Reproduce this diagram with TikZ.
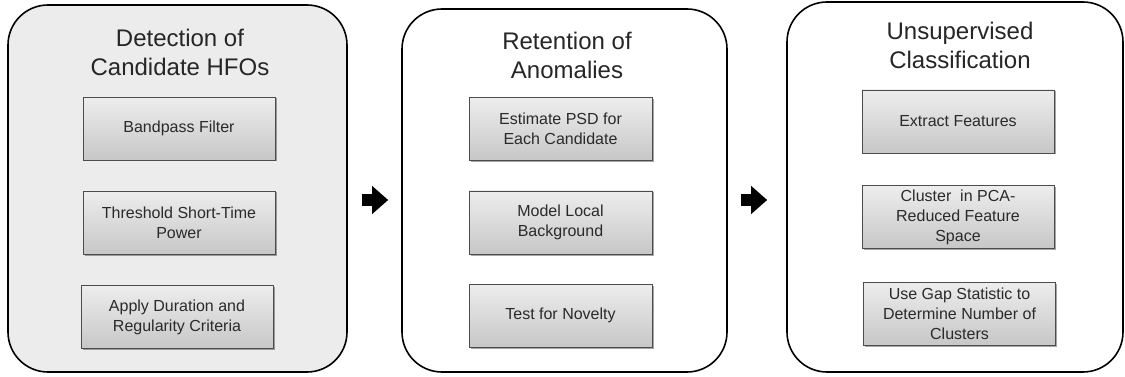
\documentclass[tikz,border=0pt]{standalone}
\usepackage{fontspec}
\setmainfont{Liberation Sans}
\usetikzlibrary{arrows.meta,shadows}
\definecolor{boxtext}{HTML}{2A2A2A}
\tikzset{
  panel/.style={draw=black, line width=1.6pt, rounded corners=40pt, inner sep=0pt},
  ptitle/.style={anchor=north, inner sep=0pt, align=center, font=\fontsize{24}{29}\selectfont, text=black!85},
  stepbox/.style={draw=black!70, line width=0.8pt, top color=gray!14, bottom color=gray!44,
     minimum width=192pt, minimum height=63pt, inner sep=2pt, align=center,
     font=\fontsize{16}{20}\selectfont, text=boxtext,
     drop shadow={shadow xshift=1.5pt, shadow yshift=-1.5pt, opacity=0.35, fill=black}},
  blockarrow/.style={line width=11pt, black, -{Triangle[length=16pt,width=27pt]}}
}
\begin{document}
\begin{tikzpicture}[x=1pt,y=-1pt]
\useasboundingbox (0,0) rectangle (1125,377);
% panels
\node[panel, fill=gray!15, minimum width=339pt, minimum height=367pt] (p1) at (177.5,188.5) {};
\node[panel, fill=white, minimum width=325pt, minimum height=363pt] (p2) at (564.5,190.5) {};
\node[panel, fill=white, minimum width=336pt, minimum height=370pt] (p3) at (955,187) {};
% titles
\node[ptitle] (t1) at (180,29) {Detection of\\Candidate HFOs};
\node[ptitle] (t2) at (567,32) {Retention of\\Anomalies};
\node[ptitle] (t3) at (960,22) {Unsupervised\\Classification};
% boxes panel 1
\node[stepbox] (b11) at (179,128.5) {Bandpass Filter};
\node[stepbox] (b12) at (179,222.5) {Threshold Short-Time\\Power};
\node[stepbox] (b13) at (177,317) {Apply Duration and\\Regularity Criteria};
% boxes panel 2
\node[stepbox, minimum width=183pt] (b21) at (560.5,129) {Estimate PSD for\\Each Candidate};
\node[stepbox, minimum width=183pt] (b22) at (560.5,222.5) {Model Local\\Background};
\node[stepbox, minimum width=183pt] (b23) at (560.5,315.5) {Test for Novelty};
% boxes panel 3
\node[stepbox] (b31) at (958,121.5) {Extract Features};
\node[stepbox] (b32) at (958,217) {Cluster\ \ in PCA-\\Reduced Feature\\Space};
\node[stepbox] (b33) at (959.5,313.5) {Use Gap Statistic to\\Determine Number of\\Clusters};
% arrows
\coordinate (ay) at (0,200);
\draw[blockarrow, shorten <=14pt, shorten >=13pt] (p1.east |- ay) -- (p2.west |- ay);
\draw[blockarrow, shorten <=13pt, shorten >=19pt] (p2.east |- ay) -- (p3.west |- ay);
\end{tikzpicture}
\end{document}
